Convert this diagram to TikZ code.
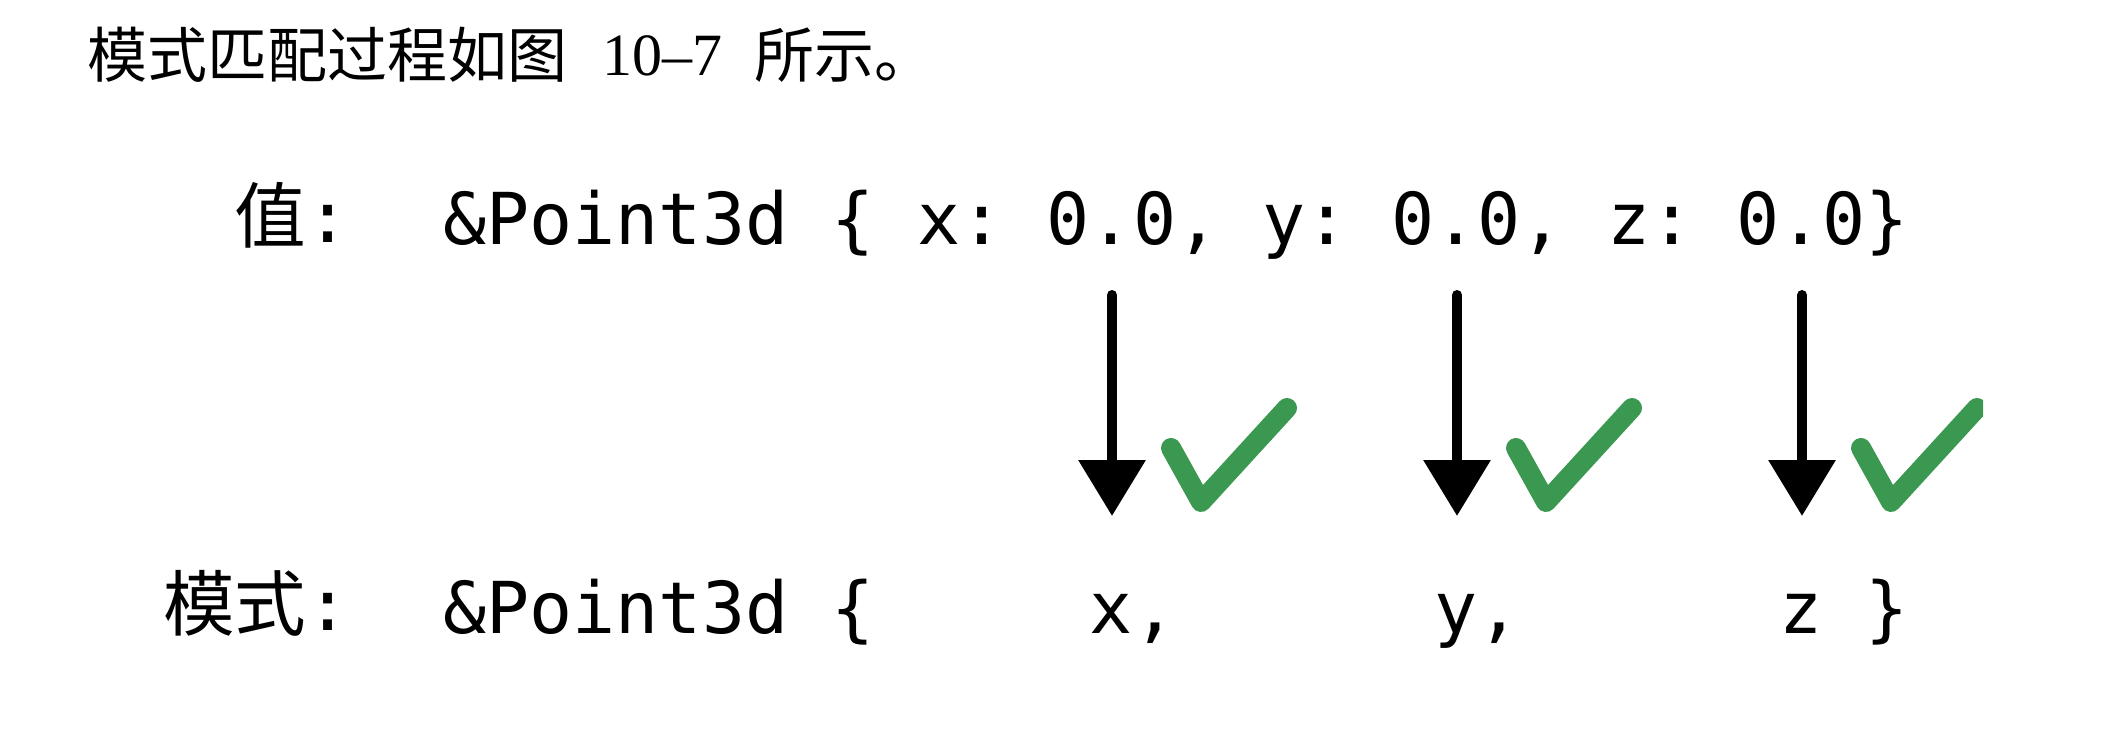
\documentclass[tikz,border=0pt]{standalone}
\usepackage{fontspec}
\setmainfont{Liberation Serif}
\newfontfamily\cjk{Noto Sans CJK SC}
\newfontfamily\monofont{DejaVu Sans Mono}
\usetikzlibrary{arrows.meta}
\definecolor{checkgreen}{RGB}{59,152,80}
\begin{document}
\begin{tikzpicture}[x=0.5pt,y=-0.5pt,
  titletext/.style={anchor=base west, inner sep=0pt, font=\fontsize{30pt}{36pt}\selectfont},
  codetext/.style={anchor=base west, inner sep=0pt, font=\monofont\fontsize{35.8pt}{40pt}\selectfont\frenchspacing},
  labeltext/.style={anchor=base east, inner sep=0pt, font=\fontsize{35.8pt}{40pt}\selectfont},
  matcharrow/.style={line width=5pt, line cap=round, -{Triangle[width=32.5pt,length=28pt]}},
  checkstroke/.style={draw=checkgreen, line width=10pt, line cap=round, line join=round}]
\useasboundingbox (0,0) rectangle (2112,732);
\fill[white] (0,0) rectangle (2112,732);
% title line
\node[titletext] (t1) at (87,78) {\cjk 模式匹配过程如图};
\node[titletext] (t2) at (602,76) {10\textendash7};
\node[titletext] (t3) at (754,78) {\cjk 所示。};
% row labels
\node[labeltext] (lv) at (350,243) {{\cjk 值}{\monofont :}};
\node[labeltext] (lp) at (350,630) {{\cjk 模式}{\monofont :}};
% value row
\node[codetext] (vrow) at (443,245) {\&Point3d \{ x: 0.0, y: 0.0, z: 0.0\}};
% pattern row
\node[codetext] (p0) at (443,633) {\&Point3d \{};
\node[codetext] (px) at (1089.5,633) {x,};
\node[codetext] (py) at (1434.3,633) {y,};
\node[codetext] (pz) at (1779.1,633) {z \}};
% arrows
\coordinate (a1t) at (1112,295); \coordinate (a1b) at (1112,516);
\coordinate (a2t) at (1457,295); \coordinate (a2b) at (1457,516);
\coordinate (a3t) at (1802,295); \coordinate (a3b) at (1802,516);
\draw[matcharrow] (a1t) -- (a1b);
\draw[matcharrow] (a2t) -- (a2b);
\draw[matcharrow] (a3t) -- (a3b);
% check marks
\draw[checkstroke] (1171,448) -- (1201,502) -- (1287,408);
\draw[checkstroke] (1516,448) -- (1546,502) -- (1632,408);
\begin{scope}
\clip (1820,380) rectangle (1983,540);
\draw[checkstroke] (1861,448) -- (1891,502) -- (1977,408);
\end{scope}
\end{tikzpicture}
\end{document}
